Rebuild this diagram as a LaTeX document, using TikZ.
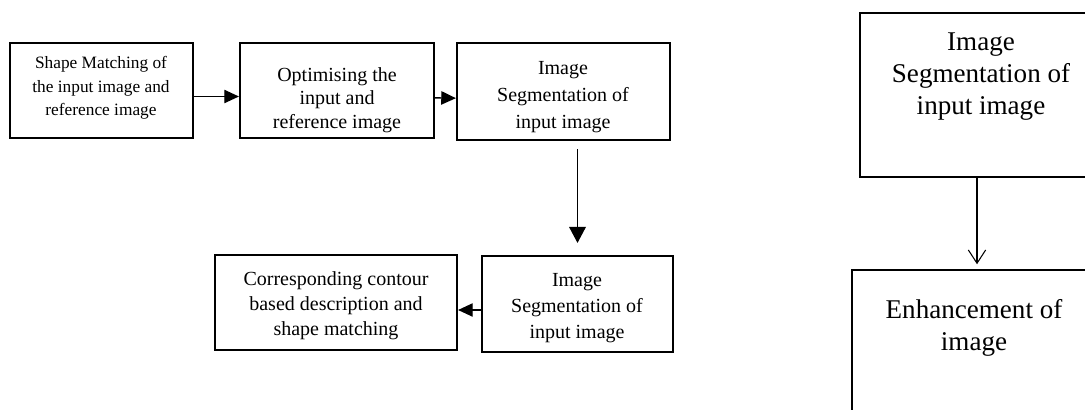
\documentclass[tikz,border=0pt]{standalone}
\usepackage{fontspec}
\setmainfont{Liberation Serif}
\usetikzlibrary{arrows.meta,calc}
\tikzset{
  box/.style={draw, line width=1.6pt, rectangle, inner sep=0pt},
  txtA/.style={align=center, font=\fontsize{13}{17.5}\selectfont, inner sep=0pt},
  txtB/.style={align=center, font=\fontsize{15}{#1}\selectfont, inner sep=0pt},
  txtC/.style={align=center, font=\fontsize{20.3}{24}\selectfont, inner sep=0pt},
  arr/.style={line width=1pt, -{Triangle[length=11pt,width=10pt]}},
  arrd/.style={line width=1pt, -{Triangle[length=12pt,width=12.5pt]}},
  arrv/.style={line width=0.8pt, -{Straight Barb[length=10pt,width=13pt,line width=0.8pt]}}
}
\begin{document}
\begin{tikzpicture}[x=0.75pt,y=-0.75pt]
\useasboundingbox (0,0) rectangle (1085,410);
\clip (0,0) rectangle (1085,410);
% boxes
\node[box, minimum width=183*0.75pt, minimum height=95*0.75pt] (b1) at (101.5,90.5) {};
\node[box, minimum width=194*0.75pt, minimum height=95*0.75pt] (b2) at (337,90.5) {};
\node[box, minimum width=213*0.75pt, minimum height=97*0.75pt] (b3) at (563.5,91.5) {};
\node[box, minimum width=242*0.75pt, minimum height=95*0.75pt] (b4) at (336,302.5) {};
\node[box, minimum width=191*0.75pt, minimum height=96*0.75pt] (b5) at (577.5,304) {};
\node[box, minimum width=234*0.75pt, minimum height=164*0.75pt] (b6) at (977,95) {};
\node[box, minimum width=250*0.75pt, minimum height=170*0.75pt] (b7) at (977,355) {};
% texts
\node[txtA] (t1) at (101,88) {Shape Matching of\\the input image and\\reference image};
\begin{scope}
\clip (240,43) rectangle (434,134);
\node[txtB=17.5pt] (t2) at (337,100) {Optimising the\\input and\\reference image};
\end{scope}
\begin{scope}
\clip (457,43) rectangle (670,132);
\node[txtB=20pt] (t3) at (563,97) {Image\\Segmentation of\\input image};
\end{scope}
\node[txtB=18.75pt] (t4) at (336,306) {Corresponding contour\\based description and\\shape matching};
\node[txtB=19.5pt] (t5) at (577,308) {Image\\Segmentation of\\input image};
\node[txtC] (t6) at (981,77) {Image\\Segmentation of\\input image};
\node[txtC] (t7) at (974,328) {Enhancement of\\image};
% connectors
\draw[arr] ([yshift=-4.5pt]b1.east) -- ([yshift=-4.5pt]b2.west);
\draw[arr] ([yshift=-5.5pt]b2.east) -- ([yshift=-5pt]b3.west);
\draw[arrd, shorten <=6pt, shorten >=9pt] (b5.north |- b3.south) -- (b5.north);
\draw[arr] ([yshift=-4.5pt]b5.west) coordinate (p5) -- (b4.east |- p5);
\draw[arrv, shorten >=3.5pt] (b6.south) -- (b7.north);
\end{tikzpicture}
\end{document}
